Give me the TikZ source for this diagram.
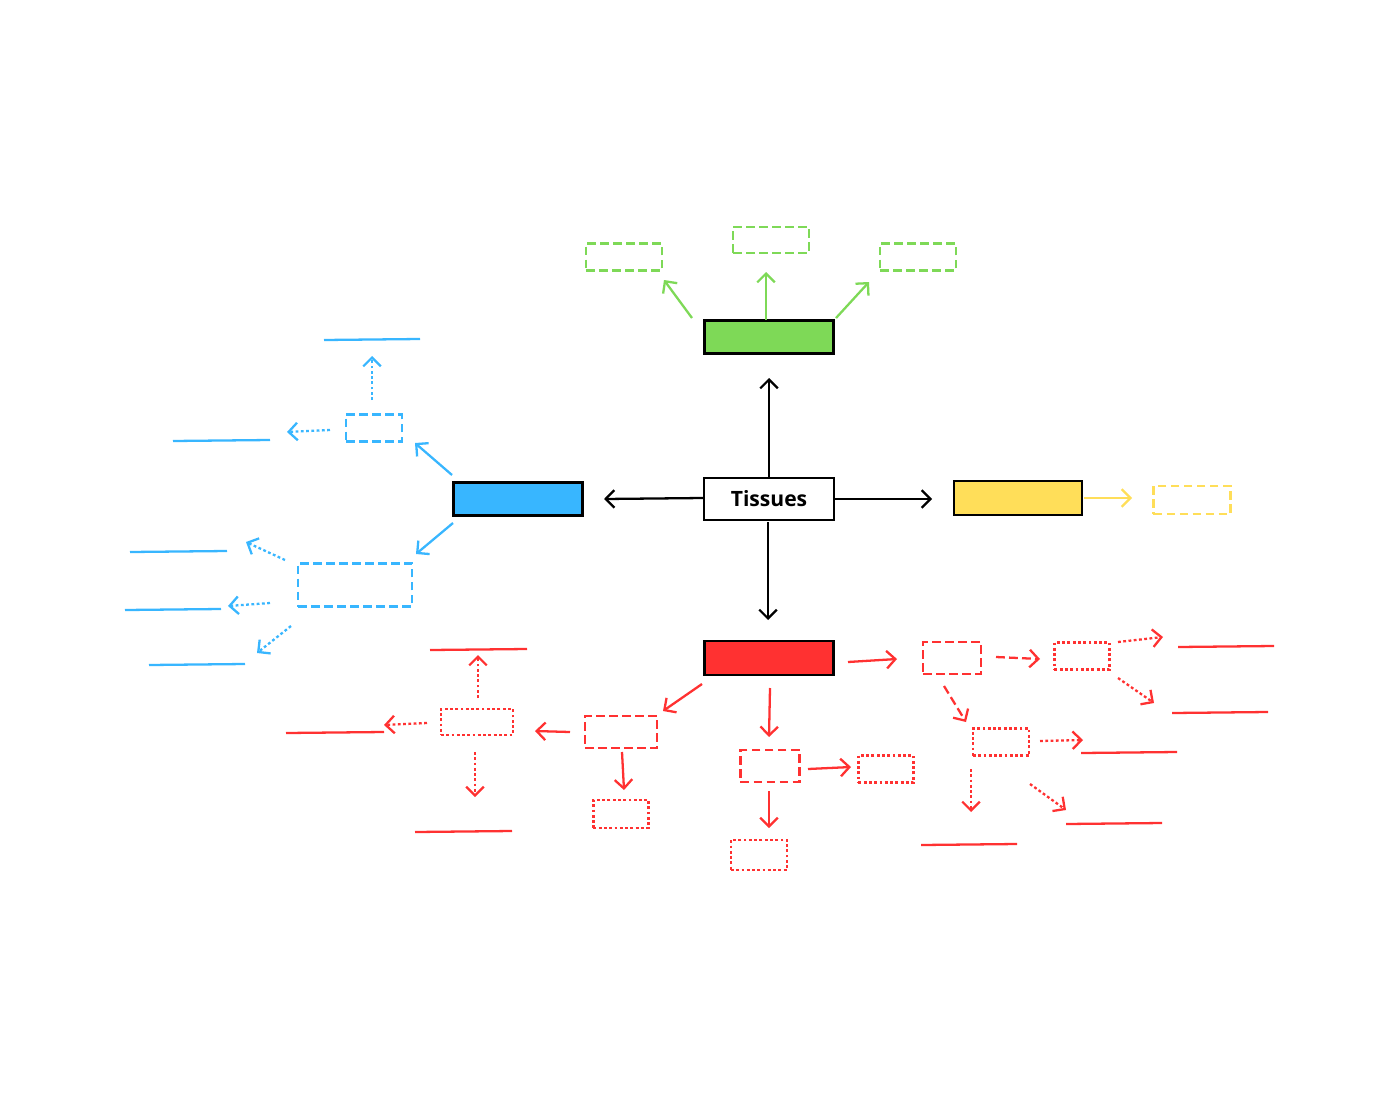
\documentclass[tikz,border=0pt]{standalone}
\usepackage{fontspec}
\setmainfont{Open Sans}
\usetikzlibrary{arrows.meta}
\definecolor{tgreen}{HTML}{7ED957}
\definecolor{tblue}{HTML}{38B6FF}
\definecolor{tyellow}{HTML}{FFDE59}
\definecolor{tred}{HTML}{FF3131}
\begin{document}
\begin{tikzpicture}[
       x=0.01cm, y=-0.01cm,
       >={Straight Barb[length=2.5pt,width=5pt]},
       main/.style={draw=black, line width=0.8pt, inner sep=0pt},
       dbox/.style={draw, line width=0.6pt, dash pattern=on 2.5pt off 1.2pt, inner sep=0pt},
       obox/.style={draw, line width=0.6pt, dash pattern=on 0.8pt off 0.7pt, inner sep=0pt},
       arr/.style={->, line width=0.65pt},
       darr/.style={->, line width=0.65pt, dash pattern=on 2.5pt off 1.2pt},
       oarr/.style={->, line width=0.65pt, dash pattern=on 0.8pt off 0.7pt},
       blank/.style={line width=0.65pt}
     ]
       \useasboundingbox (0,0) rectangle (1400,1100);

       % main boxes
       \node (tis) at (769,499) [main, minimum width=1.3cm, minimum height=0.42cm]{\fontsize{6}{7}\selectfont\textbf{Tissues}};
       \node (grn) at (769,337) [main, fill=tgreen, minimum width=1.29cm, minimum height=0.33cm]{};
       \node (yel) at (1018,498)[main, fill=tyellow, minimum width=1.28cm, minimum height=0.34cm]{};
       \node (blu) at (518,499) [main, fill=tblue, minimum width=1.29cm, minimum height=0.33cm]{};
       \node (red) at (769,658) [main, fill=tred, minimum width=1.29cm, minimum height=0.34cm]{};

       \draw[arr] (769,477) -- (769,378);
       \draw[arr] (834,499) -- (932,499);
       \draw[arr] (703,498) -- (604,499);
       \draw[arr] (768,522) -- (768,620);

       % green
       \begin{scope}[tgreen]
       \node (g1) at (624,257) [dbox, minimum width=0.76cm, minimum height=0.27cm]{};
       \node (g2) at (771,240) [dbox, minimum width=0.76cm, minimum height=0.26cm]{};
       \node (g3) at (918,257) [dbox, minimum width=0.76cm, minimum height=0.27cm]{};
       \draw[arr] (692,318) -- (664,280);
       \draw[arr] (766,320) -- (766,272);
       \draw[arr] (836,318) -- (869,282);
       \end{scope}

       % yellow
       \begin{scope}[tyellow]
       \node (y1) at (1192,500) [dbox, minimum width=0.77cm, minimum height=0.28cm]{};
       \draw[arr] (1084,498) -- (1132,498);
       \end{scope}

       % blue
       \begin{scope}[tblue]
       \node (b1) at (374,428) [dbox, minimum width=0.56cm, minimum height=0.27cm]{};
       \node (b2) at (355,585) [dbox, minimum width=1.14cm, minimum height=0.43cm]{};
       \draw[arr] (452,475) -- (415,443);
       \draw[arr] (453,523) -- (416,554);
       \draw[oarr] (372,400) -- (372,356);
       \draw[oarr] (330,430) -- (287,432);
       \draw[oarr] (285,560) -- (246,542);
       \draw[oarr] (270,603) -- (228,606);
       \draw[oarr] (291,626) -- (257,653);
       \draw[blank] (324,340) -- (420,339);
       \draw[blank] (173,441) -- (270,440);
       \draw[blank] (130,552) -- (227,551);
       \draw[blank] (125,610) -- (221,609);
       \draw[blank] (149,665) -- (245,664);
       \end{scope}

       % red
       \begin{scope}[tred]
       \node (r1) at (621,732) [dbox, minimum width=0.72cm, minimum height=0.32cm]{};
       \node (r2) at (477,722) [obox, minimum width=0.72cm, minimum height=0.26cm]{};
       \node (r3) at (621,814) [obox, minimum width=0.55cm, minimum height=0.28cm]{};
       \node (r4) at (770,766) [dbox, minimum width=0.59cm, minimum height=0.32cm]{};
       \node (r5) at (886,769) [obox, minimum width=0.55cm, minimum height=0.27cm]{};
       \node (r6) at (759,855) [obox, minimum width=0.56cm, minimum height=0.3cm]{};
       \node (r7) at (952,658) [dbox, minimum width=0.58cm, minimum height=0.32cm]{};
       \node (r8) at (1082,656) [obox, minimum width=0.55cm, minimum height=0.27cm]{};
       \node (r9) at (1001,742) [obox, minimum width=0.56cm, minimum height=0.27cm]{};

       \draw[arr] (702,684) -- (663,711);
       \draw[arr] (570,732) -- (535,731);
       \draw[arr] (622,752) -- (624,790);
       \draw[arr] (770,688) -- (769,737);
       \draw[arr] (808,769) -- (851,767);
       \draw[arr] (769,791) -- (769,828);
       \draw[arr] (848,662) -- (897,659);
       \draw[darr] (996,657) -- (1040,659);
       \draw[darr] (944,686) -- (966,722);

       \draw[oarr] (478,698) -- (478,655);
       \draw[oarr] (427,723) -- (384,725);
       \draw[oarr] (475,752) -- (475,797);
       \draw[oarr] (1118,642) -- (1163,637);
       \draw[oarr] (1118,678) -- (1154,703);
       \draw[oarr] (1040,741) -- (1083,740);
       \draw[oarr] (971,769) -- (971,812);
       \draw[oarr] (1030,784) -- (1066,810);

       \draw[blank] (430,650) -- (527,649);
       \draw[blank] (286,733) -- (384,732);
       \draw[blank] (415,832) -- (512,831);
       \draw[blank] (1178,647) -- (1274,646);
       \draw[blank] (1172,713) -- (1268,712);
       \draw[blank] (1081,753) -- (1177,752);
       \draw[blank] (921,845) -- (1017,844);
       \draw[blank] (1066,824) -- (1162,823);
       \end{scope}

\end{tikzpicture}
\end{document}
